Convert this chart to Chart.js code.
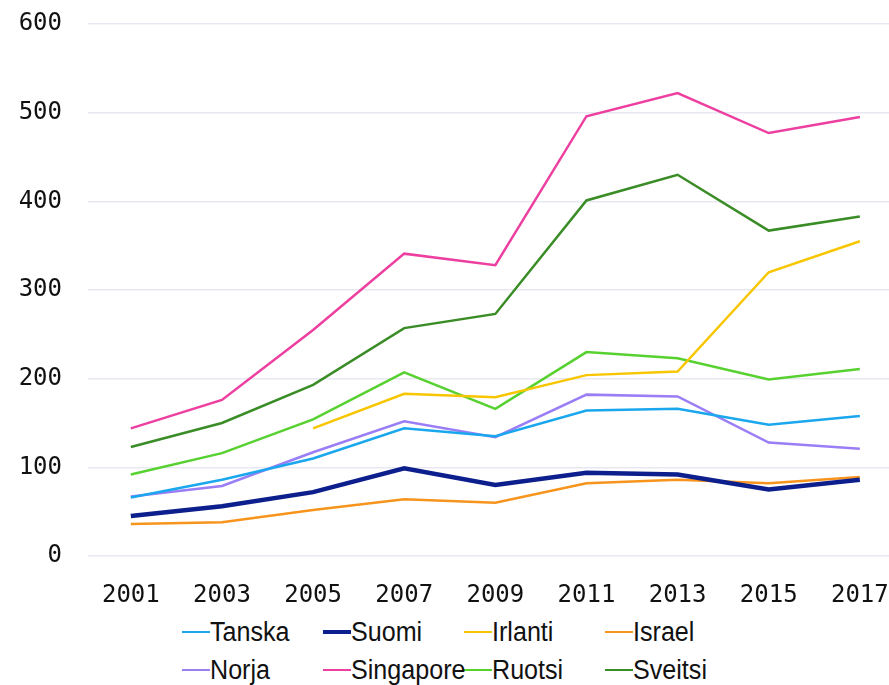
<!DOCTYPE html>
<html>
<head>
<meta charset="utf-8">
<script src="https://cdn.jsdelivr.net/npm/chart.js@4"></script>
<style>
  body { margin: 0; background: #fff; }
  #wrap { position: relative; width: 889px; height: 602px; }
  #legend { display: grid; grid-template-columns: repeat(4, 141px); margin-left: 182px; margin-top: 15px; row-gap: 8px;
    font-family: "Liberation Sans", sans-serif; font-size: 27px; color: #111; }
  #legend div { display: flex; align-items: center; height: 30px; white-space: nowrap; }
  #legend span.mark { display: inline-block; flex-shrink: 0; width: 28px; }
  #legend span.txt { display: inline-block; transform: scaleX(0.93); transform-origin: left center; }
</style>
</head>
<body>
<div id="wrap"><canvas id="lineChart"></canvas></div>
<div id="legend"></div>
<script>
const years = [2001, 2003, 2005, 2007, 2009, 2011, 2013, 2015, 2017];
const yTicks = [0, 100, 200, 300, 400, 500, 600];

const tanska    = [66, 86, 110, 144, 135, 164, 166, 148, 158];
const suomi     = [45, 56, 72, 99, 80, 94, 92, 75, 86];
const irlanti   = [null, null, 144, 183, 179, 204, 208, 320, 355];
const israel    = [36, 38, 52, 64, 60, 82, 86, 82, 89];
const norja     = [67, 79, 117, 152, 134, 182, 180, 128, 121];
const singapore = [144, 176, 255, 341, 328, 496, 522, 477, 495];
const ruotsi    = [92, 116, 154, 207, 166, 230, 223, 199, 211];
const sveitsi   = [123, 150, 193, 257, 273, 401, 430, 367, 383];

const series = [
  { label: 'Tanska', data: tanska, color: '#1aa7ee', width: 2.5 },
  { label: 'Suomi', data: suomi, color: '#0c1f8c', width: 4.5 },
  { label: 'Irlanti', data: irlanti, color: '#f7c600', width: 2.5 },
  { label: 'Israel', data: israel, color: '#f7941d', width: 2.5 },
  { label: 'Norja', data: norja, color: '#9a7ef5', width: 2.5 },
  { label: 'Singapore', data: singapore, color: '#ec3fa0', width: 2.5 },
  { label: 'Ruotsi', data: ruotsi, color: '#57d130', width: 2.5 },
  { label: 'Sveitsi', data: sveitsi, color: '#3a8c26', width: 2.5 }
];

const line = document.getElementById('lineChart');

new Chart(line, {
    type: 'line',
    data: {
        datasets: series.map(s => ({
            label: s.label,
            data: years.map((y, i) => ({ x: y, y: s.data[i] })),
            borderColor: s.color,
            backgroundColor: s.color,
            borderWidth: s.width,
            pointRadius: 0,
            tension: 0
        }))
    },
    options: {
        responsive: true,
        maintainAspectRatio: false,
        animation: false,
        layout: {
          padding: { left: 17, right: 0, top: 24, bottom: 0 },
          autoPadding: false
        },
        plugins: {
            legend: { display: false },
            tooltip: { enabled: false }
        },
        scales: {
            x: {
                type: 'linear',
                min: 2000.06,
                max: 2017.64,
                afterBuildTicks: axis => { axis.ticks = years.map(v => ({ value: v })); },
                afterFit: axis => { axis.height = 46; axis.paddingLeft = 0; axis.paddingRight = 0; },
                grid: { display: false },
                border: { display: false },
                ticks: {
                    autoSkip: false,
                    maxRotation: 0,
                    padding: 17,
                    color: '#111',
                    font: { family: 'DejaVu Sans Mono', size: 24 },
                    callback: v => String(v)
                }
            },
            y: {
                min: 0,
                max: 600,
                afterBuildTicks: axis => { axis.ticks = yTicks.map(v => ({ value: v })); },
                afterFit: axis => { axis.width = 71; axis.paddingTop = 0; axis.paddingBottom = 0; },
                grid: { color: '#e8e8f2', lineWidth: 1.5, drawTicks: false },
                border: { display: false },
                ticks: {
                    padding: 26,
                    color: '#111',
                    font: { family: 'DejaVu Sans Mono', size: 24 }
                }
            }
        }
    }
});

const legend = document.getElementById('legend');
series.forEach(s => {
    const item = document.createElement('div');
    const mark = document.createElement('span');
    mark.className = 'mark';
    mark.style.borderTop = (s.width > 3 ? 4 : 2.5) + 'px solid ' + s.color;
    const txt = document.createElement('span');
    txt.className = 'txt';
    txt.textContent = s.label;
    item.appendChild(mark);
    item.appendChild(txt);
    legend.appendChild(item);
});
</script>
</body>
</html>
